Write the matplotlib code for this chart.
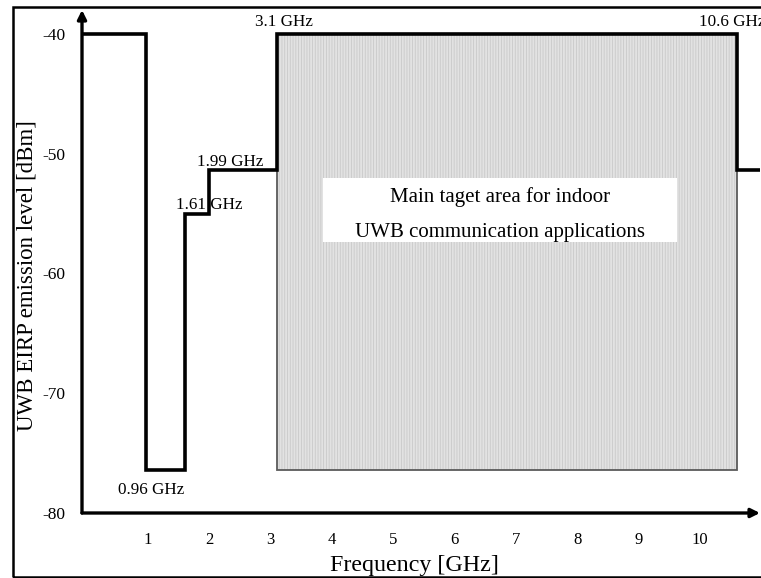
import matplotlib
matplotlib.use('Agg')
import matplotlib.pyplot as plt
from matplotlib.patches import Rectangle

plt.rcParams['font.family'] = ['Liberation Serif', 'DejaVu Serif']
plt.rcParams['axes.unicode_minus'] = False
plt.rcParams['hatch.linewidth'] = 0.6

# UWB indoor emission mask: band edges (GHz) and level of each segment (dBm)
edges = [0.96, 1.61, 1.99, 3.1, 10.6]
levels = [-40.0, -76.4, -55.0, -51.4, -40.0, -51.4]
edge_labels = ['0.96 GHz', '1.61 GHz', '1.99 GHz', '3.1 GHz', '10.6 GHz']
xticks = [1, 2, 3, 4, 5, 6, 7, 8, 9, 10]
yticks = [-40, -50, -60, -70, -80]
note_lines = ['Main taget area for indoor', 'UWB communication applications']

x_lo, x_hi = -0.077, 10.98
y_lo, y_hi = -80.0, -38.0

fig = plt.figure(figsize=(7.61, 5.78), dpi=100)
ax = fig.add_axes([82 / 761, 1 - 513 / 578, (760 - 82) / 761, (513 - 10) / 578])
ax.set_xlim(x_lo, x_hi)
ax.set_ylim(y_lo, y_hi)

# shaded target band between 3.1 and 10.6 GHz
band_x0, band_x1 = edges[3], edges[4]
band_y0, band_y1 = levels[1], levels[4]
ax.add_patch(Rectangle((band_x0, band_y0), band_x1 - band_x0, band_y1 - band_y0,
                       facecolor='#e2e2e2', edgecolor='#c9c9c9', hatch='||||||',
                       lw=0, zorder=1))
ax.add_patch(Rectangle((band_x0, band_y0), band_x1 - band_x0, band_y1 - band_y0,
                       fill=False, edgecolor='#5a5a5a', lw=1.3, zorder=2))

# white box with the note
ax.add_patch(Rectangle((3.85, -57.4), 9.63 - 3.85, 5.35,
                       facecolor='white', edgecolor='none', zorder=2))
ax.text(6.74, -53.6, note_lines[0], ha='center', va='center', fontsize=15, zorder=3)
ax.text(6.74, -56.6, note_lines[1], ha='center', va='center', fontsize=15, zorder=3)

# the mask itself
ax.stairs(levels, [x_lo - 1] + edges + [x_hi + 1], baseline=None,
          color='black', lw=2.6, zorder=4)

# edge annotations
label_pos = [(1.05, -78.1, 'center'), (2.0, -54.3, 'center'), (2.34, -50.7, 'center'),
             (3.22, -39.0, 'center'), (9.99, -39.0, 'left')]
for (tx, ty, ha), lab in zip(label_pos, edge_labels):
    ax.text(tx, ty, lab, ha=ha, va='center', fontsize=12.3, zorder=5, clip_on=False)

# axes drawn as arrows
for spine in ax.spines.values():
    spine.set_visible(False)
arrow = dict(arrowstyle='-|>', color='black', lw=2.4, mutation_scale=13,
             shrinkA=0, shrinkB=0)
ax.annotate('', xy=(0, 1), xytext=(0, 0), xycoords='axes fraction', arrowprops=arrow)
ax.annotate('', xy=(1, 0), xytext=(0, 0), xycoords='axes fraction', arrowprops=arrow)

ax.set_xticks(xticks)
ax.set_yticks(yticks)
ax.tick_params(axis='x', length=0, pad=14, labelsize=12)
ax.tick_params(axis='y', length=0, pad=12, labelsize=12.5)

fig.text(414 / 761, 1 - 565 / 578, 'Frequency [GHz]', ha='center', va='center', fontsize=17.3)
fig.text(27 / 761, 1 - 276 / 578, 'UWB EIRP emission level [dBm]', ha='center', va='center',
         rotation=90, fontsize=16.5)

# outer frame
fig.add_artist(Rectangle((13 / 761, 1 - 577 / 578), 1.0, (577 - 7) / 578,
                         transform=fig.transFigure, fill=False, lw=1.8, ec='black'))

fig.savefig('out.png', dpi=100)
